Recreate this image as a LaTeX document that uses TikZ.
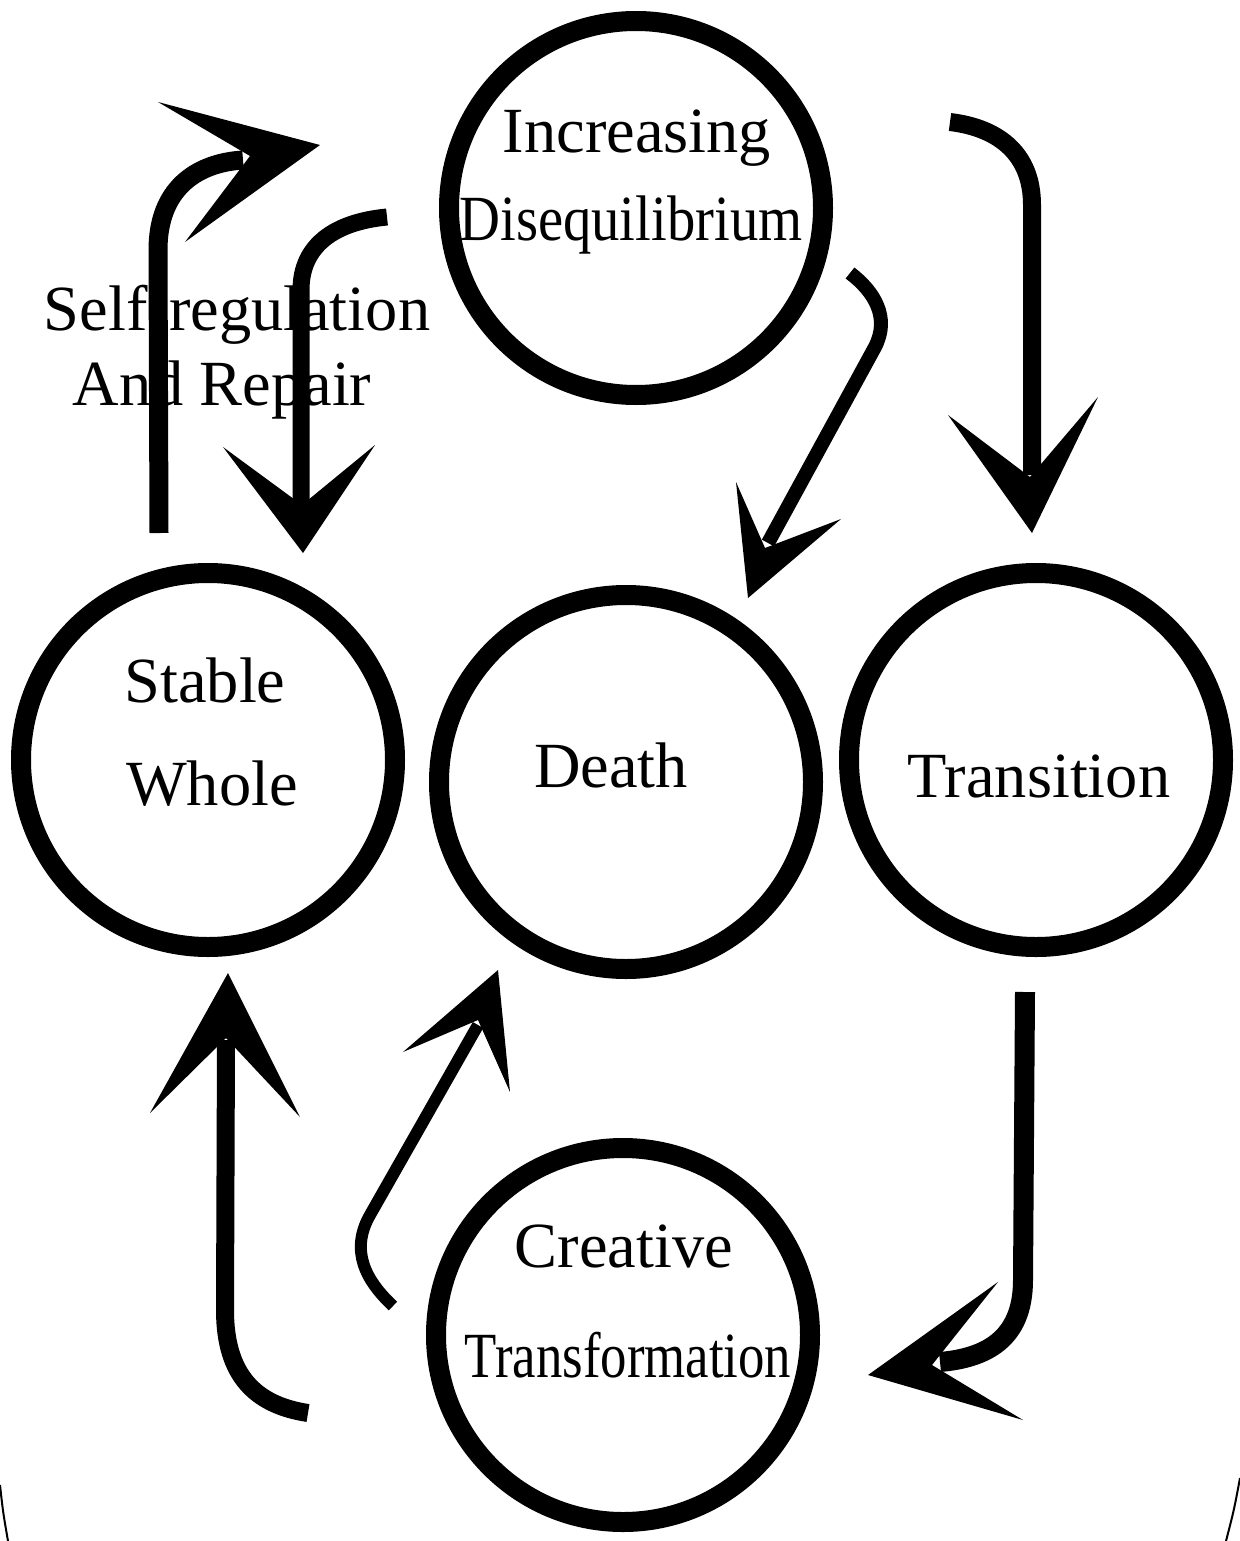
\documentclass[tikz,border=0pt]{standalone}
\usepackage{fontspec}
\setmainfont{Liberation Serif}
\begin{document}
\begin{tikzpicture}[x=0.5pt,y=-0.5pt,
  ring/.style={circle,draw=black,line width=10pt,minimum size=187pt,inner sep=0pt},
  lbl/.style={anchor=base,inner sep=0pt,font=\fontsize{32.2}{36}\selectfont},
  shaft/.style={draw=black,line width=#1,line cap=butt},
  shaft/.default=8pt,
  head/.style={fill=black,draw=none},
  thinline/.style={draw=black,line width=1pt}]
\useasboundingbox (0,0) rectangle (1240,1541);
\fill[white] (0,0) rectangle (1240,1541);

% circles
\node[ring] (inc) at (636,208) {};
\node[ring] (stab) at (208,760) {};
\node[ring] (death) at (626,782) {};
\node[ring] (trans) at (1036,760) {};
\node[ring] (crea) at (623,1335) {};

% labels
\node[lbl] (t1) at (637,153) {Increasing};
\node[lbl] (t2) at (631,240) {\scalebox{0.88}[1]{Disequilibrium}};
\node[lbl] (t3) at (205,702) {Stable};
\node[lbl] (t4) at (212,805) {Whole};
\node[lbl] (t5) at (611,787) {Death};
\node[lbl] (t6) at (1039,797) {Transition};
\node[lbl] (t7) at (624,1267) {Creative};
\node[lbl] (t8) at (628,1377) {\scalebox{0.82}[1]{Transformation}};
\node[lbl] (t9) at (237,330) {Self-regulation};
\node[lbl] (t10) at (222,405) {And Repair};

% coordinates for arrow ends
\coordinate (a1) at (159,533);  \coordinate (a2) at (243,160);
\coordinate (b1) at (387,217);  \coordinate (b2) at (301,510);
\coordinate (c1) at (850,273);  \coordinate (c2) at (768,543);
\coordinate (d1) at (950,122);  \coordinate (d2) at (1032,475);
\coordinate (e1) at (1025,992); \coordinate (e2) at (940,1362);
\coordinate (f1) at (308,1413); \coordinate (f2) at (226,1040);
\coordinate (g1) at (393,1306); \coordinate (g2) at (478,1025);

% A: Stable Whole -> Increasing Disequilibrium
\path[shaft=9.5pt] (a1) -- (158,250) .. controls (158,190) and (195,163) .. (a2);
\fill[head] (158,102) -- (320,145) -- (185,242) -- (250,156) -- cycle;

% B: Increasing Disequilibrium -> Stable Whole
\path[shaft=8.5pt] (b1) .. controls (335,222) and (301,245) .. (301,290) -- (b2);
\fill[head] (223,447) -- (303,553) -- (375,445) -- (302,505) -- cycle;

% C: Increasing Disequilibrium -> Death
\path[shaft=7pt] (c1) .. controls (875,292) and (890,318) .. (875,347) -- (c2);
\fill[head] (736,482) -- (748,598) -- (841,519) -- (765,548) -- cycle;

% D: Increasing Disequilibrium -> Transition
\path[shaft=9pt] (d1) .. controls (1000,128) and (1032,155) .. (1032,205) -- (d2);
\fill[head] (948,415) -- (1032,533) -- (1098,397) -- (1030,477) -- cycle;

% E: Transition -> Creative Transformation
\path[shaft=10pt] (e1) -- (1023,1280) .. controls (1023,1340) and (985,1358) .. (e2);
\fill[head] (998,1282) -- (868,1375) -- (1023,1420) -- (932,1365) -- cycle;

% F: Creative Transformation -> Stable Whole
\path[shaft=9pt] (f1) .. controls (255,1405) and (225,1375) .. (225,1310) -- (f2);
\fill[head] (150,1113) -- (228,973) -- (300,1117) -- (226,1038) -- cycle;

% G: Creative Transformation -> Death
\path[shaft=6pt] (g1) .. controls (365,1280) and (350,1250) .. (370,1215) -- (g2);
\fill[head] (403,1052) -- (498,970) -- (510,1092) -- (478,1020) -- cycle;

% faint outer curve fragments at the bottom corners
\path[thinline] (0,1485) .. controls (3,1512) .. (8,1541);
\path[thinline] (1240,1478) .. controls (1234,1510) .. (1226,1541);
\end{tikzpicture}
\end{document}
